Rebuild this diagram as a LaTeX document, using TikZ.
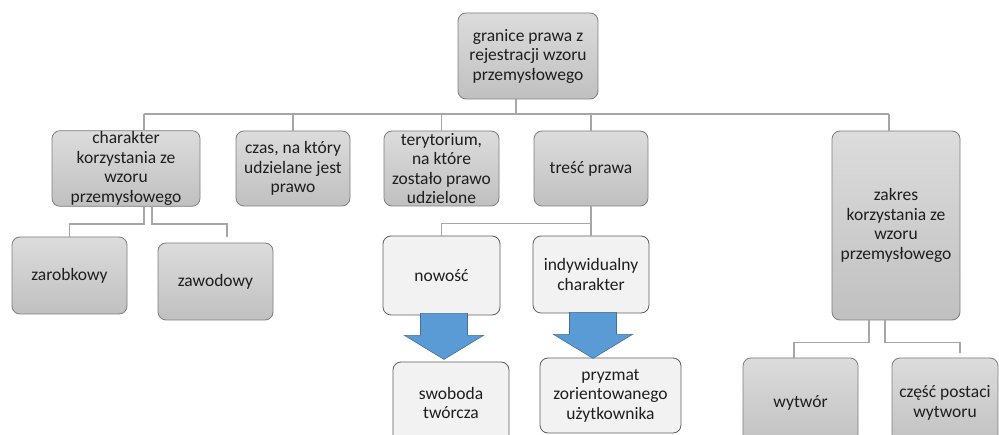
\documentclass[tikz,border=0pt]{standalone}
\usepackage{fontspec}
\setmainfont{Carlito}
\usetikzlibrary{calc}
\definecolor{boxtop}{RGB}{220,220,220}
\definecolor{boxbot}{RGB}{192,192,192}
\definecolor{boxline}{RGB}{125,125,125}
\definecolor{lightfill}{RGB}{242,242,242}
\definecolor{lightline}{RGB}{95,95,95}
\definecolor{connline}{RGB}{166,166,166}
\definecolor{arrowfill}{RGB}{91,155,213}
\definecolor{arrowline}{RGB}{65,113,156}
\definecolor{txt}{RGB}{30,30,30}
\tikzset{
  graybox/.style={draw=boxline, line width=0.8pt, rounded corners=8pt,
    top color=boxtop, bottom color=boxbot, align=center, text=txt,
    inner sep=1pt, font=\fontsize{17.5}{19.5}\selectfont},
  lightbox/.style={draw=lightline, line width=0.8pt, rounded corners=8pt,
    fill=lightfill, align=center, text=txt,
    inner sep=1pt, font=\fontsize{17.5}{19.5}\selectfont},
  conn/.style={draw=connline, line width=1.6pt},
  downarrow/.pic={
    \filldraw[fill=arrowfill, draw=arrowline, line width=0.6pt]
      (-23.5,0) -- (23.5,0) -- (23.5,22) -- (39.5,22) -- (0,46)
      -- (-39.5,22) -- (-23.5,22) -- cycle;
  }
}
\begin{document}
\begin{tikzpicture}[x=1pt,y=-1pt]
\useasboundingbox (0,0) rectangle (999,435);
\clip (0,0) rectangle (999,435);
\fill[white] (0,0) rectangle (999,435);

% root
\node[graybox, minimum width=140pt, minimum height=86pt] (top) at (528,56)
  {granice prawa z\\rejestracji wzoru\\przemysłowego};

% first level
\node[graybox, minimum width=148pt, minimum height=75pt] (c1) at (126,168.5)
  {charakter\\korzystania ze\\wzoru\\przemysłowego};
\node[graybox, minimum width=114pt, minimum height=75pt] (c2) at (293,168.5)
  {czas, na który\\udzielane jest\\prawo};
\node[graybox, minimum width=115pt, minimum height=75pt] (c3) at (441.5,168.5)
  {terytorium,\\na które\\zostało prawo\\udzielone};
\node[graybox, minimum width=114pt, minimum height=75pt] (c4) at (591,168.5)
  {treść prawa};
\node[graybox, minimum width=128pt, minimum height=189pt] (c5) at (896,225.5)
  {zakres\\korzystania ze\\wzoru\\przemysłowego};

% second level
\node[graybox, minimum width=115pt, minimum height=77pt] (z1) at (69.5,275.5)
  {zarobkowy};
\node[graybox, minimum width=115pt, minimum height=77pt] (z2) at (215.5,281.5)
  {zawodowy};
\node[lightbox, minimum width=117pt, minimum height=79pt] (n1) at (441.5,275.5)
  {nowość};
\node[lightbox, minimum width=116pt, minimum height=77pt] (n2) at (591,274.5)
  {indywidualny\\charakter};
\node[lightbox, minimum width=116pt, minimum height=82pt] (s1) at (451,403)
  {swoboda\\twórcza};
\node[lightbox, minimum width=141pt, minimum height=75pt] (s2) at (610.5,395.5)
  {pryzmat\\zorientowanego\\użytkownika};
\node[graybox, minimum width=115pt, minimum height=90pt] (w1) at (800.5,403)
  {wytwór};
\node[graybox, minimum width=106pt, minimum height=90pt] (w2) at (945,403)
  {część postaci\\wytworu};

% connector bus under the root
\coordinate (busL) at (144,114);
\coordinate (busR) at (889,114);
\coordinate (topstem) at ([xshift=-12pt]top.south);
\draw[conn] (busL) -- (busR);
\draw[conn] (topstem) -- (topstem |- busL);
\draw[conn] (busL) -- (busL |- c1.north);
\draw[conn] (c2.north |- busL) -- (c2.north);
\draw[conn] (c3.north |- busL) -- (c3.north);
\draw[conn] (c4.north |- busL) -- (c4.north);
\draw[conn] (busR) -- (busR |- c5.north);

% branches of the first box
\coordinate (c1a) at (busL |- c1.south);
\coordinate (c1b) at ([xshift=8pt]c1a);
\coordinate (z2stem) at (227,237);
\draw[conn] (c1a) -- ++(0,17) -| (z1.north);
\draw[conn] (c1b) -- ++(0,17) -| (z2stem);

% branches of "treść prawa"
\draw[conn] (c4.south) -- (n2.north);
\draw[conn] (c4.south) -- ++(0,17) -| (n1.north);

% branches of "zakres"
\coordinate (c5a) at ([xshift=-27pt]c5.south);
\coordinate (c5b) at ([xshift=-11pt]c5.south);
\coordinate (w1stem) at ([xshift=-6.5pt]w1.north);
\coordinate (w2stem) at (960,353);
\draw[conn] (c5a) -- ++(0,22) -| (w1stem);
\draw[conn] (c5b) -- ++(0,22) -| (w2stem);

% block arrows
\pic at ([xshift=2.5pt, yshift=2pt]n1.south) {downarrow};
\pic at ([xshift=2pt, yshift=1pt]n2.south) {downarrow};
\end{tikzpicture}
\end{document}
